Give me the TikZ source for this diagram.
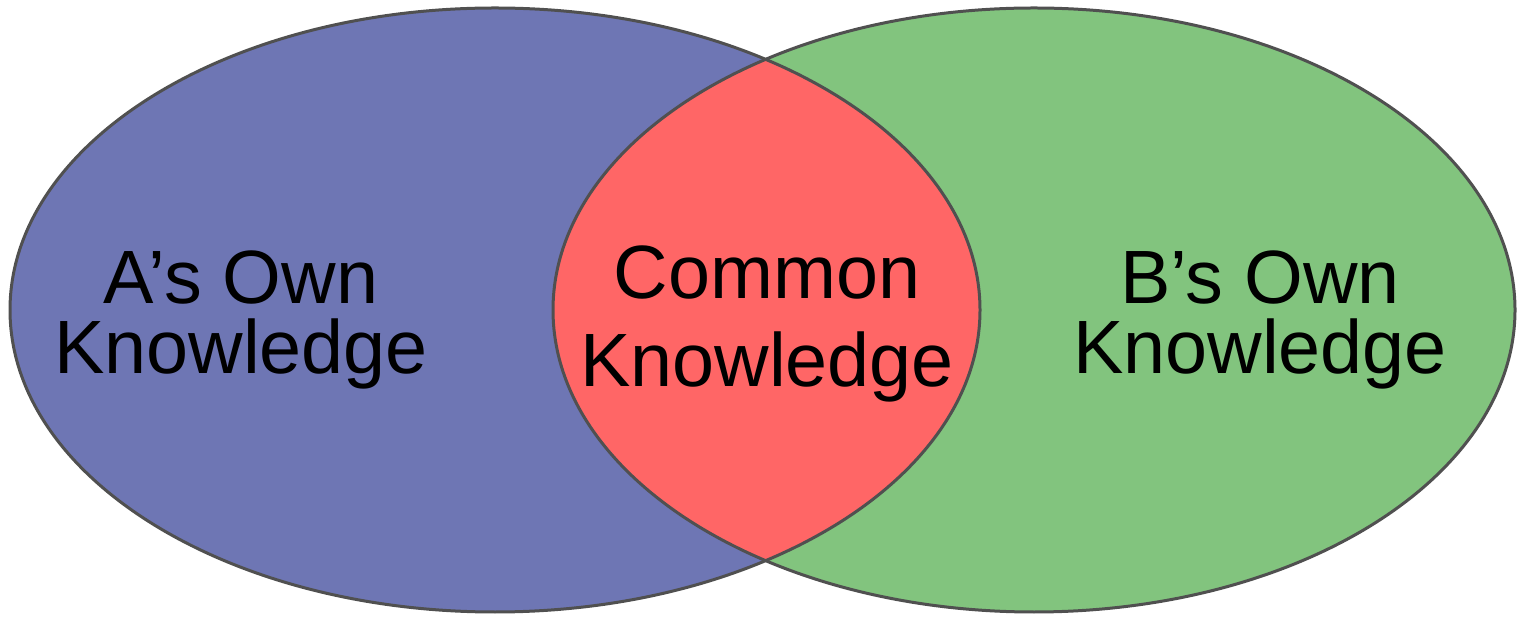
\documentclass[tikz,border=0pt]{standalone}
\usepackage{fontspec}
\setmainfont{Liberation Sans}
\usepackage{tikz}

\definecolor{ownA}{HTML}{6E76B4}
\definecolor{ownB}{HTML}{82C47E}
\definecolor{common}{HTML}{FF6666}
\definecolor{rim}{HTML}{505050}

\tikzset{
    rimline/.style={draw=rim, line width=0.06cm},
    label/.style={align=center, inner sep=0pt, font=\fontsize{43}{40}\selectfont}
}

\begin{document}
\begin{tikzpicture}[x=0.02cm, y=-0.02cm]
        \useasboundingbox (0,0) rectangle (1517,617);
        \fill [ownA] (495,310) ellipse [x radius=485, y radius=302];
        \fill [ownB] (1034,310) ellipse [x radius=481, y radius=302];
        \begin{scope}
            \clip (495,310) ellipse [x radius=485, y radius=302];
            \fill [common] (1034,310) ellipse [x radius=481, y radius=302];
        \end{scope}
        \draw [rimline] (495,310) ellipse [x radius=485, y radius=302];
        \draw [rimline] (1034,310) ellipse [x radius=481, y radius=302];
        \node [label] (aown) at (241, 320) {A’s Own\\Knowledge};
        \node [label, font=\fontsize{43}{50}\selectfont] (both) at (767, 324) {Common\\Knowledge};
        \node [label] (bown) at (1260, 320) {B’s Own\\Knowledge};
    \end{tikzpicture}
\end{document}
